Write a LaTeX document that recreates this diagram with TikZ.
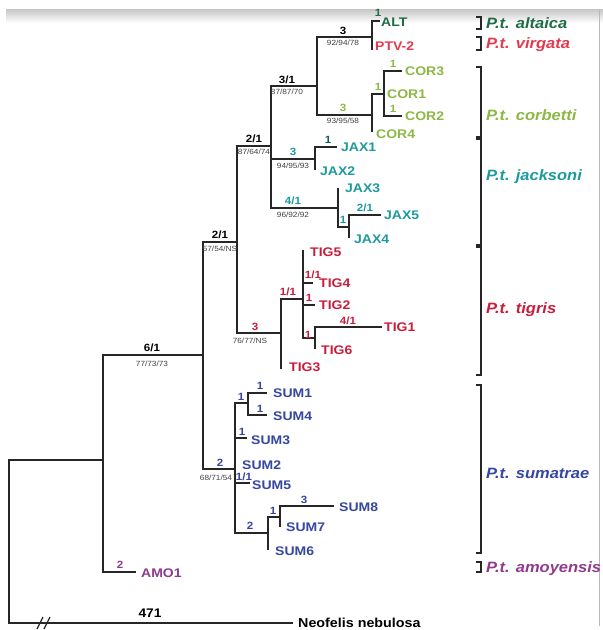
\documentclass[tikz,border=0pt]{standalone}
\usepackage{fontspec}
\setmainfont{Liberation Sans}[FakeStretch=1.1]
\newfontfamily\leaffont{Liberation Sans}[FakeStretch=1.12]
\definecolor{treeline}{HTML}{262626}
\definecolor{altgreen}{HTML}{1F6B45}
\definecolor{virred}{HTML}{E33A4F}
\definecolor{corgreen}{HTML}{8CB843}
\definecolor{jaxteal}{HTML}{1D9A9E}
\definecolor{tigred}{HTML}{C81E3C}
\definecolor{sumblue}{HTML}{3547A0}
\definecolor{amopurple}{HTML}{8E3B8E}
\tikzset{
  br/.style={draw=treeline, line width=1.8pt},
  brk/.style={draw=black!85, line width=1.8pt},
  leaf/.style={anchor=west, inner sep=0pt, font=\leaffont\bfseries\fontsize{12.5}{12.5}\selectfont, text height=9pt, text depth=0pt},
  supl/.style={inner sep=0pt, font=\bfseries\fontsize{10.5}{10.5}\selectfont, text height=7.5pt, text depth=0pt},
  boot/.style={inner sep=0pt, font=\fontsize{7.5}{7.5}\selectfont, text=black!75, text height=5.4pt, text depth=0pt},
  clade/.style={anchor=west, inner sep=0pt, font=\bfseries\itshape\fontsize{15}{15}\selectfont, text height=10.7pt, text depth=0pt},
}
\begin{document}
\begin{tikzpicture}[x=1pt,y=-1pt]
\useasboundingbox (0,0) rectangle (603,630);
\fill[white] (0,0) rectangle (603,630);
\shade[top color=gray!45, bottom color=white] (6,9) rectangle (603,23);
\draw[gray!55, line width=0.8pt] (599.5,10) -- (599.5,626);

% internal nodes and branch ends
\coordinate (R) at (9,541);
\coordinate (A) at (103,460);
\coordinate (B) at (203,355);
\coordinate (C) at (237,242);
\coordinate (D) at (271,146);
\coordinate (E) at (317,86);
\coordinate (F) at (372,37);
\coordinate (G) at (372,115);
\coordinate (H) at (384,94);
\coordinate (Ja) at (315,159);
\coordinate (Jb) at (338,208);
\coordinate (Jc) at (349,227);
\coordinate (T) at (281,333);
\coordinate (Ta) at (303,299);
\coordinate (Tb) at (315,338);
\coordinate (S) at (235,469);
\coordinate (Sa) at (248,403);
\coordinate (Sb) at (268,533);
\coordinate (Sc) at (280,517);
\coordinate (neo) at (293,623);
\coordinate (amo) at (136,572);
\coordinate (alt) at (380,21);
\coordinate (ptv) at (372,50);
\coordinate (cor3) at (402,71);
\coordinate (cor2) at (402,116);
\coordinate (cor4) at (372,132);
\coordinate (jax1) at (337,147);
\coordinate (jax2) at (315,170);
\coordinate (jax3) at (338,188);
\coordinate (jax5) at (381,215);
\coordinate (jax4) at (349,238);
\coordinate (tig5) at (303,250);
\coordinate (tig4) at (313,283);
\coordinate (tig2) at (315,305);
\coordinate (tig1) at (382,327);
\coordinate (tig6) at (315,349);
\coordinate (tig3) at (281,369);
\coordinate (sum1) at (267,393);
\coordinate (sum4) at (267,415);
\coordinate (sum3) at (247,438);
\coordinate (sum5) at (250,483);
\coordinate (sum8) at (334,506);
\coordinate (sum7) at (280,527);
\coordinate (sum6) at (268,550);

% branches
\draw[br] (R) |- (A);  \draw[br] (R) |- (neo);
\draw[br] (A) |- (B);  \draw[br] (A) |- (amo);
\draw[br] (B) |- (C);  \draw[br] (B) |- (S);
\draw[br] (C) |- (D);  \draw[br] (C) |- (T);
\draw[br] (D) |- (E);  \draw[br] (D) |- (Ja); \draw[br] (D) |- (Jb);
\draw[br] (E) |- (F);  \draw[br] (E) |- (G);
\draw[br] (F) |- (alt); \draw[br] (F) |- (ptv);
\draw[br] (G) |- (H);  \draw[br] (G) |- (cor4);
\draw[br] (H) |- (cor3); \draw[br] (H) |- (cor2);
\draw[br] (Ja) |- (jax1); \draw[br] (Ja) |- (jax2);
\draw[br] (Jb) |- (jax3); \draw[br] (Jb) |- (Jc);
\draw[br] (Jc) |- (jax5); \draw[br] (Jc) |- (jax4);
\draw[br] (T) |- (Ta); \draw[br] (T) |- (tig3);
\draw[br] (Ta) |- (tig5); \draw[br] (Ta) |- (tig4); \draw[br] (Ta) |- (tig2); \draw[br] (Ta) |- (Tb);
\draw[br] (Tb) |- (tig1); \draw[br] (Tb) |- (tig6);
\draw[br] (S) |- (Sa); \draw[br] (S) |- (sum3); \draw[br] (S) |- (sum5); \draw[br] (S) |- (Sb);
\draw[br] (Sa) |- (sum1); \draw[br] (Sa) |- (sum4);
\draw[br] (Sb) |- (Sc); \draw[br] (Sb) |- (sum6);
\draw[br] (Sc) |- (sum8); \draw[br] (Sc) |- (sum7);

% axis break
\draw[treeline, line width=1.3pt] (37,629) -- (43,617) (44,629) -- (50,617);

% leaf labels
\node[leaf, text=altgreen] (lALT) at (381,22) {ALT};
\node[leaf, text=virred] (lPTV) at (375,46) {PTV-2};
\node[leaf, text=corgreen] (lCOR3) at (405,71) {COR3};
\node[leaf, text=corgreen] (lCOR1) at (387,94) {COR1};
\node[leaf, text=corgreen] (lCOR2) at (405,116) {COR2};
\node[leaf, text=corgreen] (lCOR4) at (376,134) {COR4};
\node[leaf, text=jaxteal] (lJAX1) at (341,147) {JAX1};
\node[leaf, text=jaxteal] (lJAX2) at (320,171) {JAX2};
\node[leaf, text=jaxteal] (lJAX3) at (345,188) {JAX3};
\node[leaf, text=jaxteal] (lJAX5) at (384,215) {JAX5};
\node[leaf, text=jaxteal] (lJAX4) at (354,239) {JAX4};
\node[leaf, text=tigred] (lTIG5) at (310,252) {TIG5};
\node[leaf, text=tigred] (lTIG4) at (319,283) {TIG4};
\node[leaf, text=tigred] (lTIG2) at (319,305) {TIG2};
\node[leaf, text=tigred] (lTIG1) at (384,327) {TIG1};
\node[leaf, text=tigred] (lTIG6) at (321,350) {TIG6};
\node[leaf, text=tigred] (lTIG3) at (289,367) {TIG3};
\node[leaf, text=sumblue] (lSUM1) at (273,393) {SUM1};
\node[leaf, text=sumblue] (lSUM4) at (273,416) {SUM4};
\node[leaf, text=sumblue] (lSUM3) at (251,440) {SUM3};
\node[leaf, text=sumblue] (lSUM2) at (242,465) {SUM2};
\node[leaf, text=sumblue] (lSUM5) at (252,485) {SUM5};
\node[leaf, text=sumblue] (lSUM8) at (339,507) {SUM8};
\node[leaf, text=sumblue] (lSUM7) at (286,527) {SUM7};
\node[leaf, text=sumblue] (lSUM6) at (275,551) {SUM6};
\node[leaf, text=amopurple] (lAMO1) at (141,573) {AMO1};
\node[leaf, text=black, font=\bfseries\fontsize{13}{13}\selectfont] (lNEO) at (298,623) {Neofelis nebulosa};

% support values
\node[supl] (s61) at (152,348) {6/1};  \node[boot] (b61) at (152,364) {77/73/73};
\node[supl] (s21a) at (220,235) {2/1}; \node[boot] (b21a) at (220,249) {57/54/NS};
\node[supl] (s21b) at (254,139) {2/1}; \node[boot] (b21b) at (254,152) {87/64/74};
\node[supl] (s31) at (287,80) {3/1};   \node[boot] (b31) at (287,92) {87/87/70};
\node[supl] (s3a) at (343,31) {3};     \node[boot] (b3a) at (343,43) {92/94/78};
\node[supl, text=altgreen] (s1alt) at (378,13) {1};
\node[supl, text=corgreen] (s3c) at (343,108) {3}; \node[boot] (b3c) at (343,121) {93/95/58};
\node[supl, text=corgreen] (s1c1) at (378,87) {1};
\node[supl, text=corgreen] (s1c3) at (393,64) {1};
\node[supl, text=corgreen] (s1c2) at (393,109) {1};
\node[supl, text=jaxteal] (s3j) at (293,152) {3}; \node[boot] (b3j) at (293,166) {94/95/93};
\node[supl, text=jaxteal!60!black] (s1j1) at (328,140) {1};
\node[supl, text=jaxteal] (s41j) at (293,201) {4/1}; \node[boot] (b41j) at (293,215) {96/92/92};
\node[supl, text=jaxteal] (s1j4) at (343,220) {1};
\node[supl, text=jaxteal] (s21j) at (365,208) {2/1};
\node[supl, text=tigred] (s3t) at (255,327) {3}; \node[boot] (b3t) at (250,341) {76/77/NS};
\node[supl, text=tigred] (s11t) at (288,292) {1/1};
\node[supl, text=tigred] (s11t4) at (313,275) {1/1};
\node[supl, text=tigred] (s1t2) at (309,298) {1};
\node[supl, text=tigred] (s1t6) at (308,335) {1};
\node[supl, text=tigred] (s41t) at (348,321) {4/1};
\node[supl, text=sumblue] (s2s) at (220,463) {2}; \node[boot] (b2s) at (216,478) {68/71/54};
\node[supl, text=sumblue] (s1sa) at (241,397) {1};
\node[supl, text=sumblue] (s1s1) at (260,386) {1};
\node[supl, text=sumblue] (s1s4) at (260,409) {1};
\node[supl, text=sumblue] (s1s3) at (242,432) {1};
\node[supl, text=sumblue] (s11s5) at (244,477) {1/1};
\node[supl, text=sumblue] (s2sb) at (250,526) {2};
\node[supl, text=sumblue] (s1sc) at (273,511) {1};
\node[supl, text=sumblue] (s3s8) at (304,500) {3};
\node[supl, text=amopurple] (s2amo) at (120,565) {2};
\node[supl, font=\bfseries\fontsize{12.5}{12.5}\selectfont, text height=9pt] (s471) at (150,613) {471};

% clade brackets
\draw[brk] (476,17) -- (481,17) -- (481,29) -- (476,29);
\draw[brk] (476,37) -- (481,37) -- (481,50) -- (476,50);
\draw[brk] (476,67) -- (481,67) -- (481,137) -- (476,137);
\draw[brk] (476,139) -- (481,139) -- (481,245) -- (476,245);
\draw[brk] (476,247) -- (481,247) -- (481,375) -- (476,375);
\draw[brk] (476,385) -- (481,385) -- (481,553) -- (476,553);
\draw[brk] (476,562) -- (481,562) -- (481,572) -- (476,572);

\node[clade, text=altgreen] (cALT) at (486,23) {P.t. altaica};
\node[clade, text=virred] (cVIR) at (486,43) {P.t. virgata};
\node[clade, text=corgreen] (cCOR) at (486,115) {P.t. corbetti};
\node[clade, text=jaxteal] (cJAX) at (486,175) {P.t. jacksoni};
\node[clade, text=tigred] (cTIG) at (486,308) {P.t. tigris};
\node[clade, text=sumblue] (cSUM) at (486,473) {P.t. sumatrae};
\node[clade, text=amopurple] (cAMO) at (486,567) {P.t. amoyensis};
\end{tikzpicture}
\end{document}
